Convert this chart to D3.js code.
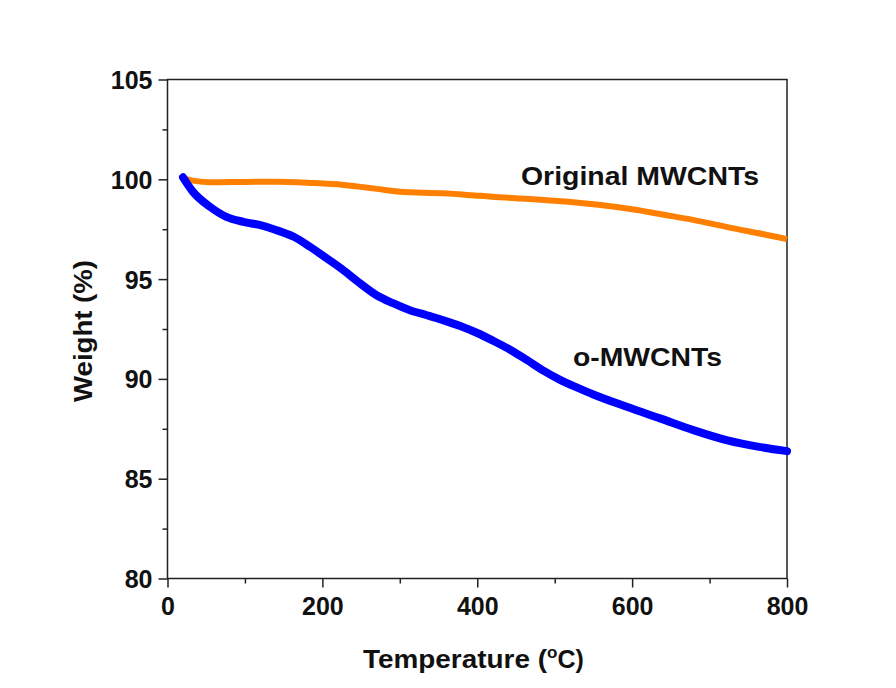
<!DOCTYPE html>
<html lang="en">
<head>
<meta charset="UTF-8">
<title>TGA curves</title>
<script src="https://d3js.org/d3.v7.min.js"></script>
<style>
    body { margin: 0; background: #fff; }
    svg { font-family: Arial, "Liberation Sans", sans-serif; font-weight: bold; }
    .tick text { font-size: 25px; fill: #111; }
    .label { font-size: 25px; fill: #111; }
</style>
</head>
<body>
<div id="chart"></div>
<script>
// Temperature (°C) and weight (%)
const originalTemp = [18, 25, 35, 55, 100, 140, 185, 227, 250, 270, 300, 356, 404, 450, 500, 559, 600, 645, 690, 731, 770, 800];
const originalWeight = [100.15, 100.0, 99.92, 99.85, 99.87, 99.88, 99.82, 99.72, 99.62, 99.52, 99.38, 99.3, 99.17, 99.05, 98.92, 98.71, 98.5, 98.2, 97.88, 97.54, 97.25, 97.0];

const oxTemp = [20, 33, 55, 76, 98, 120, 141, 163, 184, 206, 227, 249, 270, 292, 313, 335, 356, 378, 400, 421, 443, 464, 486, 507, 530, 550, 594, 637, 680, 723, 766, 800];
const oxWeight = [100.1, 99.37, 98.62, 98.12, 97.87, 97.7, 97.45, 97.12, 96.62, 96.03, 95.45, 94.78, 94.19, 93.78, 93.44, 93.19, 92.94, 92.65, 92.3, 91.9, 91.45, 90.95, 90.4, 89.95, 89.55, 89.22, 88.59, 88.01, 87.42, 86.92, 86.58, 86.38];

const xTicks = [0, 200, 400, 600, 800];
const xMinor = [100, 300, 500, 700];
const yTicks = [80, 85, 90, 95, 100, 105];
const yMinor = [82.5, 87.5, 92.5, 97.5, 102.5];

const W = 896, H = 688;
const margin = {left: 167.5, right: 109, top: 79.5, bottom: 109.5};
const iw = W - margin.left - margin.right;
const ih = H - margin.top - margin.bottom;

const svg = d3.select("#chart").append("svg")
    .attr("width", W).attr("height", H);

const g = svg.append("g").attr("transform", `translate(${margin.left},${margin.top})`);

const x = d3.scaleLinear().domain([0, 800]).range([0, iw]);
const y = d3.scaleLinear().domain([80, 105]).range([ih, 0]);

// frame
g.append("rect").attr("width", iw).attr("height", ih)
    .attr("fill", "none").attr("stroke", "#222").attr("stroke-width", 1.5);

// minor ticks
g.append("g").attr("transform", `translate(0,${ih})`)
    .call(d3.axisBottom(x).tickValues(xMinor).tickSize(5).tickFormat(""))
    .call(a => a.select(".domain").remove())
    .selectAll("line").attr("stroke", "#222").attr("stroke-width", 1.5);
g.append("g")
    .call(d3.axisLeft(y).tickValues(yMinor).tickSize(5).tickFormat(""))
    .call(a => a.select(".domain").remove())
    .selectAll("line").attr("stroke", "#222").attr("stroke-width", 1.5);

// major ticks
const xAxis = g.append("g").attr("transform", `translate(0,${ih})`)
    .call(d3.axisBottom(x).tickValues(xTicks).tickSize(9).tickPadding(10))
    .call(a => a.select(".domain").remove());
xAxis.selectAll("line").attr("stroke", "#222").attr("stroke-width", 1.5);

const yAxis = g.append("g")
    .call(d3.axisLeft(y).tickValues(yTicks).tickSize(9).tickPadding(6))
    .call(a => a.select(".domain").remove());
yAxis.selectAll("line").attr("stroke", "#222").attr("stroke-width", 1.5);
yAxis.selectAll("text").attr("dy", "0.36em");

// curves
const line = d3.line().curve(d3.curveMonotoneX)
    .x(d => x(d[0])).y(d => y(d[1]));

g.append("path")
    .datum(d3.zip(originalTemp, originalWeight))
    .attr("fill", "none").attr("stroke", "#ff8000")
    .attr("stroke-width", 6).attr("stroke-linejoin", "round")
    .attr("d", line);

g.append("path")
    .datum(d3.zip(oxTemp, oxWeight))
    .attr("fill", "none").attr("stroke", "#0000ff")
    .attr("stroke-width", 8).attr("stroke-linejoin", "round").attr("stroke-linecap", "round")
    .attr("d", line);

// curve labels
svg.append("text").attr("class", "label")
    .attr("x", 521).attr("y", 185)
    .attr("textLength", 238).attr("lengthAdjust", "spacingAndGlyphs")
    .text("Original MWCNTs");
svg.append("text").attr("class", "label")
    .attr("x", 573).attr("y", 366)
    .attr("textLength", 149).attr("lengthAdjust", "spacingAndGlyphs")
    .text("o-MWCNTs");

// axis titles
const xt = svg.append("text").attr("class", "label")
    .attr("x", 363).attr("y", 668);
xt.append("tspan").attr("textLength", 184).attr("lengthAdjust", "spacingAndGlyphs").text("Temperature (");
xt.append("tspan").attr("font-size", "17px").attr("dy", -10).text("o");
xt.append("tspan").attr("dy", 10).text("C)");

svg.append("text").attr("class", "label")
    .attr("transform", "translate(92,331) rotate(-90)")
    .attr("text-anchor", "middle")
    .attr("textLength", 142).attr("lengthAdjust", "spacingAndGlyphs")
    .text("Weight (%)");
</script>
</body>
</html>
